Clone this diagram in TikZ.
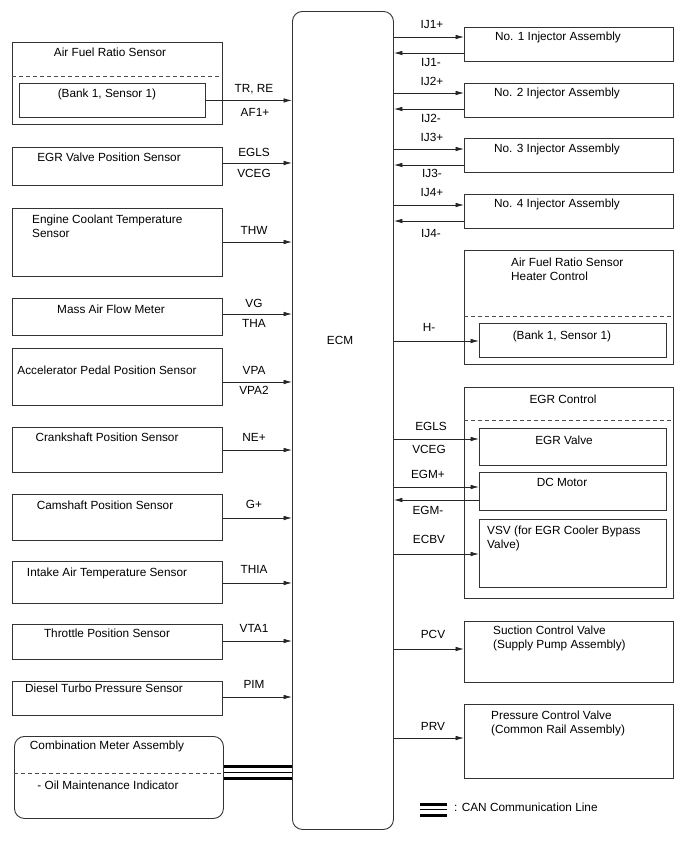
\documentclass[tikz,border=0pt]{standalone}
\usepackage{fontspec}
\setmainfont{Liberation Sans}
\usetikzlibrary{arrows.meta,positioning}

\begin{document}
\begin{tikzpicture}[x=1pt,y=-1pt,
  txt/.style={font=\fontsize{11.8}{14}\selectfont,inner sep=0pt},
  one/.style={txt,text height=8.5pt,text depth=0pt},
  box/.style={draw=black!80,line width=0.9pt,anchor=north west,inner sep=0pt},
  dashline/.style={draw=black!70,line width=0.8pt,dash pattern=on 4pt off 3pt},
  sig/.style={draw=black!85,line width=0.8pt,-{Latex[length=8.5pt,width=4.6pt]}},
  can/.style={line width=3pt}]
  \useasboundingbox (0,0) rectangle (688,852);

  % ECM
  \node[box,rounded corners=10pt,minimum width=101pt,minimum height=818pt] (ecm) at (292,11) {};
  \node[one] (ecmT) at (340,340) {ECM};

  % left side
  \node[box,minimum width=210pt,minimum height=82pt] (afr) at (12,42) {};
  \node[box,minimum width=186pt,minimum height=34pt] (afrin) at (19,83) {};
  \draw[dashline] (afr.west |- 0,76) -- (afr.east |- 0,76);
  \node[box,minimum width=210pt,minimum height=38pt] (egrps) at (12,147) {};
  \node[box,minimum width=210pt,minimum height=68pt] (ect) at (12,208) {};
  \node[box,minimum width=210pt,minimum height=37pt] (maf) at (12,298) {};
  \node[box,minimum width=210pt,minimum height=57pt] (app) at (12,348) {};
  \node[box,minimum width=210pt,minimum height=45pt] (ckp) at (12,427) {};
  \node[box,minimum width=210pt,minimum height=46pt] (cmp) at (12,494) {};
  \node[box,minimum width=210pt,minimum height=42pt] (iat) at (12,561) {};
  \node[box,minimum width=210pt,minimum height=35pt] (tps) at (12,624) {};
  \node[box,minimum width=210pt,minimum height=34pt] (dtp) at (12,681) {};
  \node[box,rounded corners=10pt,minimum width=209pt,minimum height=82pt] (cmb) at (14,736) {};
  \draw[dashline] (cmb.west |- 0,773) -- (cmb.east |- 0,773);

  \node[one] (afrT) at (110,52) {Air Fuel Ratio Sensor};
  \node[one] (afrinT) at (107,93) {(Bank 1, Sensor 1)};
  \node[one] (egrpsT) at (109,157) {EGR Valve Position Sensor};
  \node[txt,align=left,anchor=north west] (ectT) at (32,214.5) {Engine Coolant Temperature\\Sensor};
  \node[one] (mafT) at (111,309) {Mass Air Flow Meter};
  \node[one] (appT) at (107,370) {Accelerator Pedal Position Sensor};
  \node[one] (ckpT) at (107,437) {Crankshaft Position Sensor};
  \node[one] (cmpT) at (105,505) {Camshaft Position Sensor};
  \node[one] (iatT) at (107,572) {Intake Air Temperature Sensor};
  \node[one] (tpsT) at (107,633) {Throttle Position Sensor};
  \node[one] (dtpT) at (104,688) {Diesel Turbo Pressure Sensor};
  \node[one] (cmbT) at (107,745) {Combination Meter Assembly};
  \node[one] (cmbS) at (108,785) {- Oil Maintenance Indicator};

  \draw[sig] (afrin.east) -- (afrin.east -| ecm.west);
  \foreach \n/\y in {egrps/163,ect/242,maf/314,app/382,ckp/450,cmp/518,iat/583,tps/641,dtp/697}
    \draw[sig] (\n.east |- 0,\y) -- (ecm.west |- 0,\y);

  \node[one] (lTR) at (254,88) {TR, RE};
  \node[one] (lAF) at (255,112) {AF1+};
  \node[one] (lEGLSa) at (254,152) {EGLS};
  \node[one] (lVCEGa) at (254,173) {VCEG};
  \node[one] (lTHW) at (254,230) {THW};
  \node[one] (lVG) at (254,303) {VG};
  \node[one] (lTHA) at (254,323) {THA};
  \node[one] (lVPA) at (254,370) {VPA};
  \node[one] (lVPAb) at (254,390) {VPA2};
  \node[one] (lNE) at (254,437) {NE+};
  \node[one] (lG) at (254,504) {G+};
  \node[one] (lTHIA) at (254,569) {THIA};
  \node[one] (lVTA) at (254,628) {VTA1};
  \node[one] (lPIM) at (254,684) {PIM};

  % CAN
  \draw[can] (cmb.east |- 0,766.5) -- (ecm.west |- 0,766.5);
  \draw[line width=0.9pt] (cmb.east |- 0,772) -- (ecm.west |- 0,772);
  \draw[can] (cmb.east |- 0,778) -- (ecm.west |- 0,778);

  % right side
  \node[box,minimum width=209pt,minimum height=34pt] (inj1) at (464,27) {};
  \node[box,minimum width=209pt,minimum height=34pt] (inj2) at (464,83) {};
  \node[box,minimum width=209pt,minimum height=34pt] (inj3) at (464,138) {};
  \node[box,minimum width=209pt,minimum height=34pt] (inj4) at (464,194) {};
  \node[box,minimum width=209pt,minimum height=114pt] (heat) at (464,250) {};
  \node[box,minimum width=187pt,minimum height=34pt] (heatin) at (479,323) {};
  \draw[dashline] (heat.west |- 0,316) -- (heat.east |- 0,316);
  \node[box,minimum width=209pt,minimum height=211pt] (egrc) at (464,387) {};
  \draw[dashline] (egrc.west |- 0,420) -- (egrc.east |- 0,420);
  \node[box,minimum width=187pt,minimum height=37pt] (egrv) at (479,428) {};
  \node[box,minimum width=187pt,minimum height=38pt] (dcm) at (479,472) {};
  \node[box,minimum width=187pt,minimum height=68pt] (vsv) at (479,519) {};
  \node[box,minimum width=209pt,minimum height=61pt] (scv) at (464,621) {};
  \node[box,minimum width=209pt,minimum height=74pt] (pcv) at (464,704) {};

  \node[one] (inj1T) at (558,36) {No. 1 Injector Assembly};
  \node[one] (inj2T) at (557,92) {No. 2 Injector Assembly};
  \node[one] (inj3T) at (557,148) {No. 3 Injector Assembly};
  \node[one] (inj4T) at (557,203) {No. 4 Injector Assembly};
  \node[txt,align=left,anchor=north west] (heatT) at (511,258) {Air Fuel Ratio Sensor\\Heater Control};
  \node[one] (heatinT) at (562,335) {(Bank 1, Sensor 1)};
  \node[one] (egrcT) at (563,399) {EGR Control};
  \node[one] (egrvT) at (564,440) {EGR Valve};
  \node[one] (dcmT) at (562,482) {DC Motor};
  \node[txt,align=left,anchor=north west] (vsvT) at (487,525.5) {VSV (for EGR Cooler Bypass\\Valve)};
  \node[txt,align=left,anchor=north west] (scvT) at (493,625.5) {Suction Control Valve\\(Supply Pump Assembly)};
  \node[txt,align=left,anchor=north west] (pcvT) at (491,711) {Pressure Control Valve\\(Common Rail Assembly)};

  \foreach \n/\y in {inj1/37,inj2/93,inj3/149,inj4/205,heatin/341,egrv/439,dcm/487,vsv/554,scv/649,pcv/738}
    \draw[sig] (ecm.east |- 0,\y) -- (\n.west |- 0,\y);
  \foreach \n/\y in {inj1/53,inj2/109,inj3/165,inj4/221,dcm/500}
    \draw[sig] (\n.west |- 0,\y) -- (ecm.east |- 0,\y);

  \node[one] (lIJa) at (432,24) {IJ1+};
  \node[one] (lIJb) at (431,62) {IJ1-};
  \node[one] (lIJc) at (432,81) {IJ2+};
  \node[one] (lIJd) at (431,118) {IJ2-};
  \node[one] (lIJe) at (432,137) {IJ3+};
  \node[one] (lIJf) at (432,173) {IJ3-};
  \node[one] (lIJg) at (432,192) {IJ4+};
  \node[one] (lIJh) at (431,233) {IJ4-};
  \node[one] (lH) at (429,327) {H-};
  \node[one] (lEGLSb) at (431,426) {EGLS};
  \node[one] (lVCEGb) at (429,449) {VCEG};
  \node[one] (lEGMa) at (428,474) {EGM+};
  \node[one] (lEGMb) at (428,510) {EGM-};
  \node[one] (lECBV) at (429,539) {ECBV};
  \node[one] (lPCV) at (433,634) {PCV};
  \node[one] (lPRV) at (433,726) {PRV};

  % legend
  \node[one,anchor=west] (canT) at (454,807) {: CAN Communication Line};
  \draw[can] (420,804) -- (447,804);
  \draw[line width=0.9pt] (420,809.5) -- (447,809.5);
  \draw[can] (420,815) -- (447,815);
\end{tikzpicture}
\end{document}
